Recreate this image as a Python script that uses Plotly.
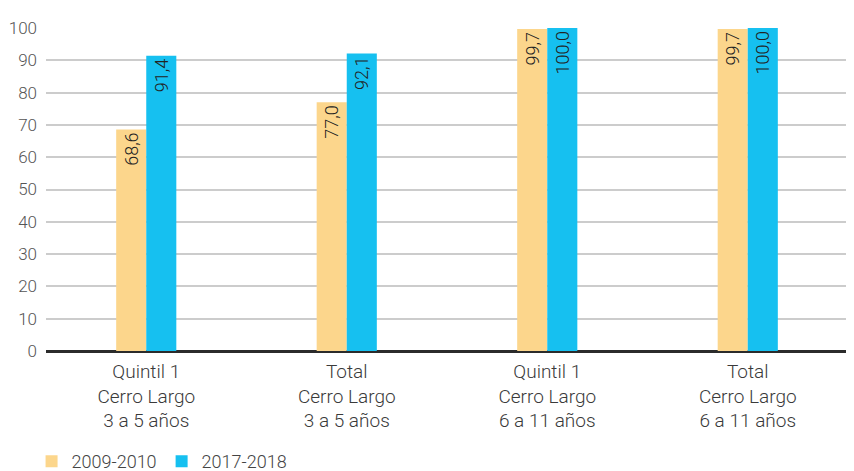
import plotly.graph_objects as go

categories = ["Quintil 1<br>Cerro Largo<br>3 a 5 años",
              "Total<br>Cerro Largo<br>3 a 5 años",
              "Quintil 1<br>Cerro Largo<br>6 a 11 años",
              "Total<br>Cerro Largo<br>6 a 11 años"]
series_names = ["2009-2010", "2017-2018"]
values_2009 = [68.6, 77.0, 99.7, 99.7]
values_2017 = [91.4, 92.1, 100.0, 100.0]
tick_vals = [0, 10, 20, 30, 40, 50, 60, 70, 80, 90, 100]

FONT = "Roboto"
colors = ["#FCD68C", "#16C0F0"]

fig = go.Figure()
for name, vals, col in zip(series_names, [values_2009, values_2017], colors):
    fig.add_trace(go.Bar(
        x=categories, y=vals, name=name, marker=dict(color=col, line=dict(width=0)),
        texttemplate="%{y:.1f}", textposition="inside", insidetextanchor="end",
        textangle=-90, textfont=dict(family=FONT, size=18, color="#222222", weight=300),
        cliponaxis=False,
    ))

# The page body has an 8px margin, so the figure is sized to fit the 854x471 window.
fig.update_layout(
    width=846, height=463,
    barmode="group", bargap=0.7, bargroupgap=0,
    separators=",.",
    paper_bgcolor="white", plot_bgcolor="white",
    margin=dict(l=38, r=6, t=20, b=120, autoexpand=False),
    font=dict(family=FONT, color="#444444", weight=300),
    uniformtext=dict(minsize=10, mode="show"),
    legend=dict(orientation="h", x=-0.018, xanchor="left", y=-0.285, yanchor="top",
                font=dict(size=18, color="#444444", weight=300), itemwidth=30,
                traceorder="normal"),
    xaxis=dict(tickfont=dict(size=19, color="#3A3A3A", weight=300), showline=False,
               ticks="", showgrid=False, automargin=False, ticklabelstandoff=7),
    yaxis=dict(range=[0, 100], tickvals=tick_vals, showgrid=True, gridcolor="#CCCCCC",
               gridwidth=1.5, zeroline=True, zerolinecolor="#2B2B2B", zerolinewidth=3,
               tickfont=dict(size=17, color="#555555", weight=300), ticks="",
               ticklabelstandoff=8, automargin=False),
)

fig.write_html("out.html")
